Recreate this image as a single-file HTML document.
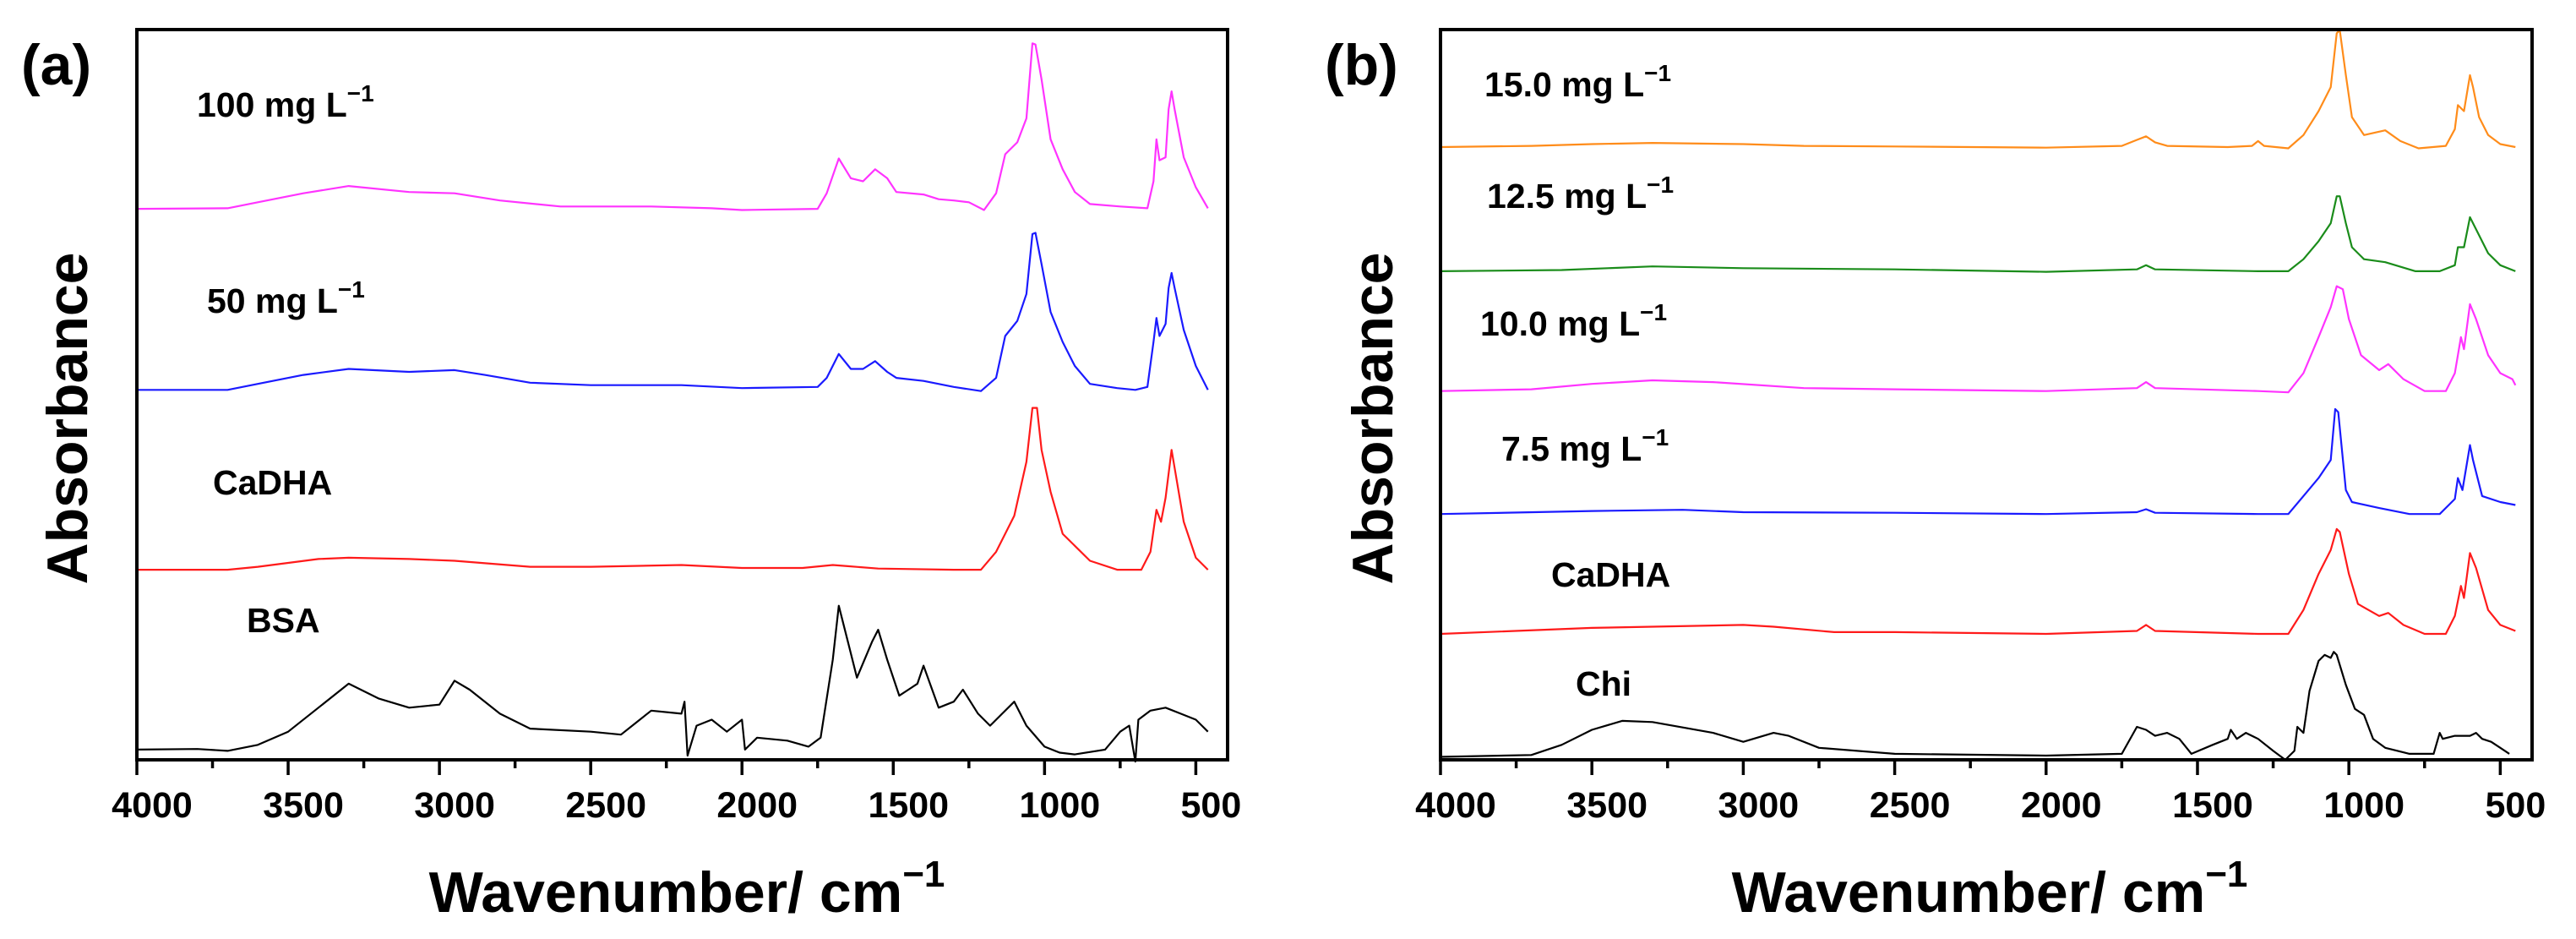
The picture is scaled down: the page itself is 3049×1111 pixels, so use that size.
<!DOCTYPE html>
<html><head><meta charset="utf-8"><style>
html,body{margin:0;padding:0;background:#fff;}
svg{display:block;font-family:"Liberation Sans",sans-serif;font-weight:bold;}
</style></head><body>
<svg id="fig" width="3049" height="1111" viewBox="0 0 3049 1111"></svg>
<script>
// ---- data (wavenumber in cm^-1, absorbance in arbitrary units relative to each trace baseline) ----
const xTicks = [4000,3500,3000,2500,2000,1500,1000,500];
const tickLabels = ["4000","3500","3000","2500","2000","1500","1000","500"];

// Panel (a)
const aMagWn = [4000,3700,3600,3450,3300,3100,2950,2800,2600,2300,2100,2000,1750,1720,1680,1640,1600,1560,1520,1490,1400,1350,1300,1250,1200,1160,1130,1090,1060,1040,1030,1010,980,940,900,850,750,660,640,630,620,600,590,580,570,540,500,460];
const aMagAbs = [0,1,11,26,38,28,26,14,4,4,1,-2,0,26,84,51,46,66,51,28,24,16,14,11,-2,26,91,111,151,276,274,216,116,66,28,8,4,1,46,116,81,86,166,196,166,86,36,1];
const aBluWn = [4000,3700,3600,3450,3300,3100,2950,2850,2700,2500,2200,2000,1750,1720,1680,1640,1600,1560,1520,1490,1400,1300,1210,1160,1130,1090,1060,1040,1030,1010,980,940,900,850,760,700,660,640,630,620,600,590,580,570,540,500,460];
const aBluAbs = [0,0,10,25,35,30,33,25,12,8,8,3,5,20,60,35,35,48,30,20,15,5,-2,20,90,115,160,260,262,210,130,80,40,10,3,0,5,80,120,90,110,170,195,170,100,40,0];
const aRedWn = [4000,3700,3600,3400,3300,3100,2950,2700,2500,2200,2000,1800,1700,1650,1550,1300,1210,1160,1100,1060,1040,1025,1010,980,940,900,850,760,680,650,630,615,600,580,570,540,500,460];
const aRedAbs = [0,0,5,18,20,18,15,5,5,8,3,3,8,6,2,0,0,30,90,180,270,270,200,130,60,40,15,0,0,30,100,80,120,200,170,80,20,0];
const aBsaWn = [4000,3800,3700,3600,3500,3400,3300,3200,3100,3000,2950,2900,2800,2700,2500,2400,2350,2300,2200,2190,2180,2150,2100,2050,2000,1990,1950,1850,1780,1740,1700,1680,1650,1620,1570,1550,1520,1480,1450,1420,1400,1350,1300,1270,1220,1180,1140,1100,1060,1000,950,900,800,750,720,700,690,650,600,550,500,480,460];
const aBsaAbs = [0,1,-2,8,30,70,110,85,70,75,115,100,60,35,30,25,45,65,60,80,-10,40,50,30,50,0,20,15,5,20,150,240,180,120,180,200,150,90,100,110,140,70,80,100,60,40,60,80,40,5,-5,-8,0,30,40,-20,50,65,70,60,50,40,30];

// Panel (b)
const bOraWn = [4000,3700,3500,3300,3000,2800,2500,2000,1750,1700,1670,1640,1600,1400,1320,1300,1280,1200,1150,1100,1060,1040,1030,1010,990,950,880,830,770,680,650,640,620,600,590,570,540,500,450];
const bOraAbs = [0,2,5,7,5,2,1,-1,2,12,18,8,2,0,2,10,2,-2,20,60,100,190,195,120,50,20,28,10,-2,2,30,70,60,120,100,50,20,5,0];
const bGrnWn = [4000,3600,3300,3000,2500,2000,1700,1670,1640,1300,1200,1150,1100,1060,1040,1030,1010,990,950,880,780,700,650,640,620,600,580,540,500,450];
const bGrnAbs = [0,2,8,5,3,-1,3,10,3,0,0,20,50,80,125,125,80,40,20,15,0,0,10,40,40,90,70,30,10,0];
const bMagWn = [4000,3700,3500,3300,3100,2800,2500,2000,1700,1670,1640,1300,1200,1150,1100,1060,1040,1020,1000,960,900,870,820,750,680,650,630,620,600,580,540,500,460,450];
const bMagAbs = [0,3,12,18,15,5,3,0,5,15,5,0,-2,30,90,140,175,170,120,60,35,45,20,0,0,30,90,70,145,120,60,30,20,10];
const bBluWn = [4000,3500,3200,3000,2500,2000,1700,1670,1640,1300,1200,1150,1100,1060,1045,1035,1010,990,900,800,700,650,640,625,600,590,560,500,450];
const bBluAbs = [0,5,7,3,2,0,3,8,2,0,0,30,60,90,175,170,40,20,10,0,0,25,60,40,115,90,30,20,15];
const bRedWn = [4000,3500,3300,3000,2900,2700,2500,2000,1700,1670,1640,1300,1200,1150,1100,1060,1040,1030,1000,970,900,870,820,750,680,650,630,620,600,580,540,500,450];
const bRedAbs = [0,10,12,15,12,3,3,0,5,15,5,0,0,40,100,140,175,170,100,50,30,35,15,0,0,30,80,60,135,110,40,15,5];
const bChiWn = [4000,3700,3600,3500,3400,3300,3100,3000,2980,2900,2850,2750,2500,2000,1750,1700,1670,1640,1600,1560,1520,1450,1400,1390,1370,1340,1300,1250,1210,1180,1170,1150,1130,1100,1080,1060,1050,1040,1010,980,950,920,880,800,720,700,690,650,600,580,560,530,500,470];
const bChiAbs = [0,3,20,45,60,58,40,25,28,40,35,15,5,2,5,50,45,35,40,30,5,20,30,45,30,40,30,10,-5,10,50,40,110,160,170,165,175,170,120,80,70,30,15,5,5,40,30,35,35,40,30,25,15,5];

// trace vertical offsets (arbitrary units)
const aOffsets = [919, 617, 317, 17];
const bOffsets = [1022, 815, 615, 410, 210, 5];

const aLabels = ["100 mg L", "50 mg L", "CaDHA", "BSA"];
const bLabels = ["15.0 mg L", "12.5 mg L", "10.0 mg L", "7.5 mg L", "CaDHA", "Chi"];

// ---- layout ----
const NS = "http://www.w3.org/2000/svg";
const svg = document.getElementById("fig");
function el(tag, attrs, parent){ const e=document.createElementNS(NS,tag); for(const k in attrs) e.setAttribute(k,attrs[k]); (parent||svg).appendChild(e); return e; }

const Y_MAX = 1218;
function makePanel(left, right, top, bottom){
  const wMax=4000, wMin=395;
  return {
    left,right,top,bottom,
    x: w => left + (wMax - w)/(wMax - wMin)*(right-left),
    y: v => bottom - v/Y_MAX*(bottom-top)
  };
}
const pa = makePanel(162, 1453, 35, 899);
const pb = makePanel(1705, 2997, 35, 899);

function drawSeries(p, wn, abs, off, color, name){
  let d="";
  for(let i=0;i<wn.length;i++){ d += (i?"L":"M") + p.x(wn[i]).toFixed(1) + "," + p.y(abs[i]+off).toFixed(1); }
  const path = el("path",{d, fill:"none", stroke:color, "stroke-width":2.2, "stroke-linejoin":"round"});
  
  
}

function drawAxes(p, pref){
  const g = el("g",{});
  
  
  for(let w=4000; w>=500; w-=250){
    const major = (w % 500 === 0);
    const t = el("line",{x1:p.x(w),x2:p.x(w),y1:p.bottom,y2:p.bottom+(major?18:10),stroke:"#000","stroke-width":3.5},g);
    
    
  }
  for(let i=0;i<xTicks.length;i++){
    const t = el("text",{x:p.x(xTicks[i])+18,y:967,"font-size":43,"text-anchor":"middle",fill:"#000"},g);
    t.textContent = tickLabels[i];
    
    
  }
  const fr = el("rect",{x:p.left,y:p.top,width:p.right-p.left,height:p.bottom-p.top,fill:"none",stroke:"#000","stroke-width":4});
  
  
}

function drawLabel(x, y, txt, sup, name){
  const t = el("text",{x,y,"font-size":41,fill:"#000"});
  t.textContent = txt;
  if(sup){
    const s = el("tspan",{"font-size":28,dy:-18},t);
    s.textContent = "\u22121";
  }
  
  
}

// panel a series
const aColors = ["#ff33ff","#1a1aff","#ff1a1a","#000"];
drawSeries(pa, aMagWn, aMagAbs, aOffsets[0], aColors[0], "trace-100mg");
drawSeries(pa, aBluWn, aBluAbs, aOffsets[1], aColors[1], "trace-50mg");
drawSeries(pa, aRedWn, aRedAbs, aOffsets[2], aColors[2], "trace-cadha-a");
drawSeries(pa, aBsaWn, aBsaAbs, aOffsets[3], aColors[3], "trace-bsa");
drawAxes(pa, "panel-a");

const bColors = ["#ff8c1a","#1a8c1a","#ff33ff","#1a1aff","#ff1a1a","#000"];
drawSeries(pb, bOraWn, bOraAbs, bOffsets[0], bColors[0], "trace-15mg");
drawSeries(pb, bGrnWn, bGrnAbs, bOffsets[1], bColors[1], "trace-12-5mg");
drawSeries(pb, bMagWn, bMagAbs, bOffsets[2], bColors[2], "trace-10mg");
drawSeries(pb, bBluWn, bBluAbs, bOffsets[3], bColors[3], "trace-7-5mg");
drawSeries(pb, bRedWn, bRedAbs, bOffsets[4], bColors[4], "trace-cadha-b");
drawSeries(pb, bChiWn, bChiAbs, bOffsets[5], bColors[5], "trace-chi");
drawAxes(pb, "panel-b");

// series labels
const aLabX=[233,245,252,292], aLabY=[138,370,585,748];
for(let i=0;i<4;i++) drawLabel(aLabX[i], aLabY[i], aLabels[i], i<2, "label-a-"+i);
const bLabX=[1757,1760,1752,1777,1836,1865], bLabY=[114,246,397,545,694,823];
for(let i=0;i<6;i++) drawLabel(bLabX[i], bLabY[i], bLabels[i], i<4, "label-b-"+i);

// panel letters
function big(x,y,txt,size,name,extra){
  const t = el("text",Object.assign({x,y,"font-size":size,fill:"#000"},extra||{}));
  t.textContent = txt;
  
  
  return t;
}
big(25,100,"(a)",68,"panel-a-letter");
big(1568,100,"(b)",68,"panel-b-letter");

// axis titles
function xTitle(cx,name){
  const t = el("text",{x:cx,y:1079,"font-size":68,"text-anchor":"middle",fill:"#000"});
  t.textContent = "Wavenumber/ cm";
  const s = el("tspan",{"font-size":44,dy:-30},t); s.textContent="\u22121";
  
  
}
xTitle(813,"panel-a-x-axis-title");
xTitle(2355,"panel-b-x-axis-title");
big(0,0,"Absorbance",68,"panel-a-y-axis-title",{"text-anchor":"middle",transform:"translate(103,495) rotate(-90)"});
big(0,0,"Absorbance",68,"panel-b-y-axis-title",{"text-anchor":"middle",transform:"translate(1648,495) rotate(-90)"});
</script>
</body></html>
